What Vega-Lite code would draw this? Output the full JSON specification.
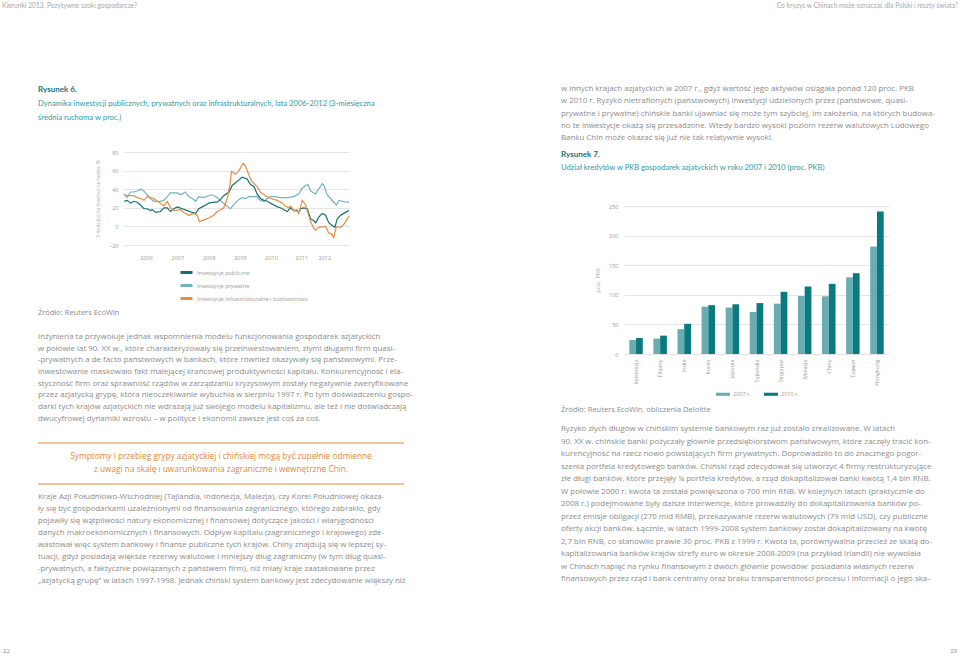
{
  "$schema": "https://vega.github.io/schema/vega-lite/v6.json",
  "background": "white",
  "padding": 0,
  "spacing": 0,
  "config": {
    "view": {"stroke": null},
    "font": "Open Sans",
    "concat": {"spacing": 0}
  },
  "resolve": {"scale": {"stroke": "independent", "fill": "independent"}, "legend": {"stroke": "independent", "fill": "independent"}},
  "vconcat": [
    {
      "width": 960, "height": 83,
      "layer": [
        {"data": {"values": [{"t": "Kierunki 2013. Pozytywne szoki gospodarcze?"}]},
         "mark": {"type": "text", "align": "left", "baseline": "middle", "fontSize": 6.7, "color": "#a8a8a8", "font": "Lato"},
         "encoding": {"text": {"field": "t"}, "x": {"value": 2}, "y": {"value": 5.5}}},
        {"data": {"values": [{"t": "Co kryzys w Chinach może oznaczać dla Polski i reszty świata?"}]},
         "mark": {"type": "text", "align": "right", "baseline": "middle", "fontSize": 6.7, "color": "#a8a8a8", "font": "Lato"},
         "encoding": {"text": {"field": "t"}, "x": {"value": 958}, "y": {"value": 5.5}}}
      ]
    },
    {
      "spacing": 0,
      "resolve": {"scale": {"stroke": "independent", "fill": "independent"}, "legend": {"stroke": "independent", "fill": "independent"}},
      "hconcat": [
        {"width": 37, "height": 1, "data": {"values": []}, "mark": "text", "encoding": {}},
        {
          "spacing": 0,
          "resolve": {"scale": {"stroke": "independent", "fill": "independent"}, "legend": {"stroke": "independent", "fill": "independent"}},
          "vconcat": [
            {
              "width": 395, "height": 42,
              "data": {"values": [
                {"i": 0, "t": "Rysunek 6."},
                {"i": 1, "t": "Dynamika inwestycji publicznych, prywatnych oraz infrastrukturalnych, lata 2006-2012 (3-miesięczna"},
                {"i": 2, "t": "średnia ruchoma w proc.)"}
              ]},
              "encoding": {
                "x": {"value": 0},
                "y": {"field": "i", "type": "ordinal", "scale": {"type": "point", "padding": 0.5}, "axis": null},
                "text": {"field": "t"}
              },
              "layer": [
                {"transform": [{"filter": "datum.i == 0"}], "mark": {"type": "text", "align": "left", "baseline": "middle", "font": "Lato", "fontSize": 8, "fontWeight": "bold", "color": "#17737a"}},
                {"transform": [{"filter": "datum.i > 0"}], "mark": {"type": "text", "align": "left", "baseline": "middle", "font": "Lato", "fontSize": 7.6, "color": "#2e9ca3"}}
              ]
            },
            {"width": 395, "height": 24.25, "data": {"values": []}, "mark": "text", "encoding": {}},
            {
              "spacing": 0,
              "bounds": "flush",
              "resolve": {"scale": {"stroke": "independent", "fill": "independent"}, "legend": {"stroke": "independent", "fill": "independent"}},
              "hconcat": [
                {"width": 86, "height": 1, "data": {"values": []}, "mark": "text", "encoding": {}},
                {
                  "width": 225, "height": 93,
                  "data": {"values": [
                    {"d": 2005.79, "s": "Inwestycje prywatne", "v": 35},
                    {"d": 2005.89, "s": "Inwestycje prywatne", "v": 31},
                    {"d": 2006.00, "s": "Inwestycje prywatne", "v": 37},
                    {"d": 2006.11, "s": "Inwestycje prywatne", "v": 37},
                    {"d": 2006.21, "s": "Inwestycje prywatne", "v": 38},
                    {"d": 2006.32, "s": "Inwestycje prywatne", "v": 40},
                    {"d": 2006.43, "s": "Inwestycje prywatne", "v": 38},
                    {"d": 2006.53, "s": "Inwestycje prywatne", "v": 34},
                    {"d": 2006.64, "s": "Inwestycje prywatne", "v": 30},
                    {"d": 2006.75, "s": "Inwestycje prywatne", "v": 27},
                    {"d": 2006.96, "s": "Inwestycje prywatne", "v": 27},
                    {"d": 2007.07, "s": "Inwestycje prywatne", "v": 28},
                    {"d": 2007.18, "s": "Inwestycje prywatne", "v": 32},
                    {"d": 2007.28, "s": "Inwestycje prywatne", "v": 36},
                    {"d": 2007.50, "s": "Inwestycje prywatne", "v": 36},
                    {"d": 2007.60, "s": "Inwestycje prywatne", "v": 34},
                    {"d": 2007.76, "s": "Inwestycje prywatne", "v": 37},
                    {"d": 2007.87, "s": "Inwestycje prywatne", "v": 32},
                    {"d": 2007.98, "s": "Inwestycje prywatne", "v": 30},
                    {"d": 2008.09, "s": "Inwestycje prywatne", "v": 27},
                    {"d": 2008.19, "s": "Inwestycje prywatne", "v": 32},
                    {"d": 2008.35, "s": "Inwestycje prywatne", "v": 31},
                    {"d": 2008.51, "s": "Inwestycje prywatne", "v": 33},
                    {"d": 2008.62, "s": "Inwestycje prywatne", "v": 34},
                    {"d": 2008.78, "s": "Inwestycje prywatne", "v": 31},
                    {"d": 2008.94, "s": "Inwestycje prywatne", "v": 26},
                    {"d": 2009.05, "s": "Inwestycje prywatne", "v": 23},
                    {"d": 2009.16, "s": "Inwestycje prywatne", "v": 20},
                    {"d": 2009.21, "s": "Inwestycje prywatne", "v": 19},
                    {"d": 2009.32, "s": "Inwestycje prywatne", "v": 24},
                    {"d": 2009.48, "s": "Inwestycje prywatne", "v": 29},
                    {"d": 2009.58, "s": "Inwestycje prywatne", "v": 31},
                    {"d": 2009.69, "s": "Inwestycje prywatne", "v": 30},
                    {"d": 2009.80, "s": "Inwestycje prywatne", "v": 32},
                    {"d": 2009.96, "s": "Inwestycje prywatne", "v": 32},
                    {"d": 2010.06, "s": "Inwestycje prywatne", "v": 32},
                    {"d": 2010.17, "s": "Inwestycje prywatne", "v": 28},
                    {"d": 2010.28, "s": "Inwestycje prywatne", "v": 27},
                    {"d": 2010.39, "s": "Inwestycje prywatne", "v": 30},
                    {"d": 2010.49, "s": "Inwestycje prywatne", "v": 32},
                    {"d": 2010.65, "s": "Inwestycje prywatne", "v": 32},
                    {"d": 2010.81, "s": "Inwestycje prywatne", "v": 31},
                    {"d": 2011.03, "s": "Inwestycje prywatne", "v": 31},
                    {"d": 2011.24, "s": "Inwestycje prywatne", "v": 32},
                    {"d": 2011.40, "s": "Inwestycje prywatne", "v": 35},
                    {"d": 2011.51, "s": "Inwestycje prywatne", "v": 41},
                    {"d": 2011.62, "s": "Inwestycje prywatne", "v": 44},
                    {"d": 2011.69, "s": "Inwestycje prywatne", "v": 45},
                    {"d": 2011.78, "s": "Inwestycje prywatne", "v": 38},
                    {"d": 2011.88, "s": "Inwestycje prywatne", "v": 36},
                    {"d": 2011.94, "s": "Inwestycje prywatne", "v": 35},
                    {"d": 2011.99, "s": "Inwestycje prywatne", "v": 38},
                    {"d": 2012.10, "s": "Inwestycje prywatne", "v": 43},
                    {"d": 2012.15, "s": "Inwestycje prywatne", "v": 46},
                    {"d": 2012.22, "s": "Inwestycje prywatne", "v": 43},
                    {"d": 2012.31, "s": "Inwestycje prywatne", "v": 34},
                    {"d": 2012.42, "s": "Inwestycje prywatne", "v": 30},
                    {"d": 2012.52, "s": "Inwestycje prywatne", "v": 26},
                    {"d": 2012.61, "s": "Inwestycje prywatne", "v": 23},
                    {"d": 2012.68, "s": "Inwestycje prywatne", "v": 28},
                    {"d": 2012.79, "s": "Inwestycje prywatne", "v": 27},
                    {"d": 2012.90, "s": "Inwestycje prywatne", "v": 26},
                    {"d": 2013.01, "s": "Inwestycje prywatne", "v": 26},
                    {"d": 2005.79, "s": "Inwestycje publiczne", "v": 27},
                    {"d": 2005.89, "s": "Inwestycje publiczne", "v": 28},
                    {"d": 2006.00, "s": "Inwestycje publiczne", "v": 25},
                    {"d": 2006.11, "s": "Inwestycje publiczne", "v": 27},
                    {"d": 2006.21, "s": "Inwestycje publiczne", "v": 26},
                    {"d": 2006.32, "s": "Inwestycje publiczne", "v": 23},
                    {"d": 2006.43, "s": "Inwestycje publiczne", "v": 19},
                    {"d": 2006.53, "s": "Inwestycje publiczne", "v": 19},
                    {"d": 2006.64, "s": "Inwestycje publiczne", "v": 17},
                    {"d": 2006.70, "s": "Inwestycje publiczne", "v": 18},
                    {"d": 2006.80, "s": "Inwestycje publiczne", "v": 15},
                    {"d": 2006.96, "s": "Inwestycje publiczne", "v": 16},
                    {"d": 2007.07, "s": "Inwestycje publiczne", "v": 20},
                    {"d": 2007.18, "s": "Inwestycje publiczne", "v": 20},
                    {"d": 2007.28, "s": "Inwestycje publiczne", "v": 16},
                    {"d": 2007.39, "s": "Inwestycje publiczne", "v": 19},
                    {"d": 2007.50, "s": "Inwestycje publiczne", "v": 21},
                    {"d": 2007.66, "s": "Inwestycje publiczne", "v": 19},
                    {"d": 2007.82, "s": "Inwestycje publiczne", "v": 17},
                    {"d": 2007.98, "s": "Inwestycje publiczne", "v": 15},
                    {"d": 2008.09, "s": "Inwestycje publiczne", "v": 14},
                    {"d": 2008.19, "s": "Inwestycje publiczne", "v": 19},
                    {"d": 2008.30, "s": "Inwestycje publiczne", "v": 21},
                    {"d": 2008.41, "s": "Inwestycje publiczne", "v": 23},
                    {"d": 2008.51, "s": "Inwestycje publiczne", "v": 25},
                    {"d": 2008.67, "s": "Inwestycje publiczne", "v": 26},
                    {"d": 2008.78, "s": "Inwestycje publiczne", "v": 26},
                    {"d": 2008.89, "s": "Inwestycje publiczne", "v": 29},
                    {"d": 2008.99, "s": "Inwestycje publiczne", "v": 33},
                    {"d": 2009.16, "s": "Inwestycje publiczne", "v": 37},
                    {"d": 2009.26, "s": "Inwestycje publiczne", "v": 44},
                    {"d": 2009.37, "s": "Inwestycje publiczne", "v": 47},
                    {"d": 2009.48, "s": "Inwestycje publiczne", "v": 50},
                    {"d": 2009.58, "s": "Inwestycje publiczne", "v": 53},
                    {"d": 2009.74, "s": "Inwestycje publiczne", "v": 51},
                    {"d": 2009.85, "s": "Inwestycje publiczne", "v": 45},
                    {"d": 2009.96, "s": "Inwestycje publiczne", "v": 43},
                    {"d": 2010.06, "s": "Inwestycje publiczne", "v": 35},
                    {"d": 2010.17, "s": "Inwestycje publiczne", "v": 30},
                    {"d": 2010.28, "s": "Inwestycje publiczne", "v": 28},
                    {"d": 2010.39, "s": "Inwestycje publiczne", "v": 27},
                    {"d": 2010.49, "s": "Inwestycje publiczne", "v": 25},
                    {"d": 2010.60, "s": "Inwestycje publiczne", "v": 23},
                    {"d": 2010.71, "s": "Inwestycje publiczne", "v": 21},
                    {"d": 2010.81, "s": "Inwestycje publiczne", "v": 20},
                    {"d": 2010.92, "s": "Inwestycje publiczne", "v": 18},
                    {"d": 2011.03, "s": "Inwestycje publiczne", "v": 16},
                    {"d": 2011.13, "s": "Inwestycje publiczne", "v": 20},
                    {"d": 2011.24, "s": "Inwestycje publiczne", "v": 17},
                    {"d": 2011.35, "s": "Inwestycje publiczne", "v": 17},
                    {"d": 2011.40, "s": "Inwestycje publiczne", "v": 15},
                    {"d": 2011.45, "s": "Inwestycje publiczne", "v": 19},
                    {"d": 2011.56, "s": "Inwestycje publiczne", "v": 20},
                    {"d": 2011.67, "s": "Inwestycje publiczne", "v": 19},
                    {"d": 2011.78, "s": "Inwestycje publiczne", "v": 8},
                    {"d": 2011.88, "s": "Inwestycje publiczne", "v": 6},
                    {"d": 2011.94, "s": "Inwestycje publiczne", "v": 4},
                    {"d": 2012.04, "s": "Inwestycje publiczne", "v": 10},
                    {"d": 2012.15, "s": "Inwestycje publiczne", "v": 14},
                    {"d": 2012.26, "s": "Inwestycje publiczne", "v": 12},
                    {"d": 2012.36, "s": "Inwestycje publiczne", "v": 4},
                    {"d": 2012.47, "s": "Inwestycje publiczne", "v": 1},
                    {"d": 2012.56, "s": "Inwestycje publiczne", "v": -1},
                    {"d": 2012.63, "s": "Inwestycje publiczne", "v": 8},
                    {"d": 2012.74, "s": "Inwestycje publiczne", "v": 12},
                    {"d": 2012.84, "s": "Inwestycje publiczne", "v": 14},
                    {"d": 2013.01, "s": "Inwestycje publiczne", "v": 17},
                    {"d": 2005.79, "s": "Inwestycje infrastrukturalne i budownictwo", "v": 34},
                    {"d": 2005.89, "s": "Inwestycje infrastrukturalne i budownictwo", "v": 33},
                    {"d": 2006.11, "s": "Inwestycje infrastrukturalne i budownictwo", "v": 33},
                    {"d": 2006.21, "s": "Inwestycje infrastrukturalne i budownictwo", "v": 31},
                    {"d": 2006.32, "s": "Inwestycje infrastrukturalne i budownictwo", "v": 30},
                    {"d": 2006.43, "s": "Inwestycje infrastrukturalne i budownictwo", "v": 28},
                    {"d": 2006.53, "s": "Inwestycje infrastrukturalne i budownictwo", "v": 32},
                    {"d": 2006.75, "s": "Inwestycje infrastrukturalne i budownictwo", "v": 30},
                    {"d": 2006.86, "s": "Inwestycje infrastrukturalne i budownictwo", "v": 27},
                    {"d": 2006.96, "s": "Inwestycje infrastrukturalne i budownictwo", "v": 25},
                    {"d": 2007.07, "s": "Inwestycje infrastrukturalne i budownictwo", "v": 22},
                    {"d": 2007.18, "s": "Inwestycje infrastrukturalne i budownictwo", "v": 27},
                    {"d": 2007.28, "s": "Inwestycje infrastrukturalne i budownictwo", "v": 20},
                    {"d": 2007.39, "s": "Inwestycje infrastrukturalne i budownictwo", "v": 17},
                    {"d": 2007.60, "s": "Inwestycje infrastrukturalne i budownictwo", "v": 18},
                    {"d": 2007.71, "s": "Inwestycje infrastrukturalne i budownictwo", "v": 15},
                    {"d": 2007.87, "s": "Inwestycje infrastrukturalne i budownictwo", "v": 12},
                    {"d": 2008.03, "s": "Inwestycje infrastrukturalne i budownictwo", "v": 14},
                    {"d": 2008.14, "s": "Inwestycje infrastrukturalne i budownictwo", "v": 12},
                    {"d": 2008.21, "s": "Inwestycje infrastrukturalne i budownictwo", "v": 5},
                    {"d": 2008.35, "s": "Inwestycje infrastrukturalne i budownictwo", "v": 7},
                    {"d": 2008.51, "s": "Inwestycje infrastrukturalne i budownictwo", "v": 9},
                    {"d": 2008.67, "s": "Inwestycje infrastrukturalne i budownictwo", "v": 12},
                    {"d": 2008.78, "s": "Inwestycje infrastrukturalne i budownictwo", "v": 16},
                    {"d": 2008.89, "s": "Inwestycje infrastrukturalne i budownictwo", "v": 18},
                    {"d": 2008.99, "s": "Inwestycje infrastrukturalne i budownictwo", "v": 20},
                    {"d": 2009.10, "s": "Inwestycje infrastrukturalne i budownictwo", "v": 30},
                    {"d": 2009.19, "s": "Inwestycje infrastrukturalne i budownictwo", "v": 45},
                    {"d": 2009.24, "s": "Inwestycje infrastrukturalne i budownictwo", "v": 59},
                    {"d": 2009.37, "s": "Inwestycje infrastrukturalne i budownictwo", "v": 56},
                    {"d": 2009.48, "s": "Inwestycje infrastrukturalne i budownictwo", "v": 60},
                    {"d": 2009.61, "s": "Inwestycje infrastrukturalne i budownictwo", "v": 68},
                    {"d": 2009.69, "s": "Inwestycje infrastrukturalne i budownictwo", "v": 65},
                    {"d": 2009.80, "s": "Inwestycje infrastrukturalne i budownictwo", "v": 55},
                    {"d": 2009.90, "s": "Inwestycje infrastrukturalne i budownictwo", "v": 48},
                    {"d": 2010.06, "s": "Inwestycje infrastrukturalne i budownictwo", "v": 43},
                    {"d": 2010.17, "s": "Inwestycje infrastrukturalne i budownictwo", "v": 37},
                    {"d": 2010.33, "s": "Inwestycje infrastrukturalne i budownictwo", "v": 33},
                    {"d": 2010.49, "s": "Inwestycje infrastrukturalne i budownictwo", "v": 30},
                    {"d": 2010.71, "s": "Inwestycje infrastrukturalne i budownictwo", "v": 28},
                    {"d": 2010.87, "s": "Inwestycje infrastrukturalne i budownictwo", "v": 25},
                    {"d": 2010.97, "s": "Inwestycje infrastrukturalne i budownictwo", "v": 22},
                    {"d": 2011.08, "s": "Inwestycje infrastrukturalne i budownictwo", "v": 20},
                    {"d": 2011.13, "s": "Inwestycje infrastrukturalne i budownictwo", "v": 22},
                    {"d": 2011.24, "s": "Inwestycje infrastrukturalne i budownictwo", "v": 17},
                    {"d": 2011.35, "s": "Inwestycje infrastrukturalne i budownictwo", "v": 18},
                    {"d": 2011.40, "s": "Inwestycje infrastrukturalne i budownictwo", "v": 14},
                    {"d": 2011.51, "s": "Inwestycje infrastrukturalne i budownictwo", "v": 28},
                    {"d": 2011.62, "s": "Inwestycje infrastrukturalne i budownictwo", "v": 23},
                    {"d": 2011.67, "s": "Inwestycje infrastrukturalne i budownictwo", "v": 17},
                    {"d": 2011.78, "s": "Inwestycje infrastrukturalne i budownictwo", "v": 5},
                    {"d": 2011.88, "s": "Inwestycje infrastrukturalne i budownictwo", "v": -2},
                    {"d": 2011.94, "s": "Inwestycje infrastrukturalne i budownictwo", "v": -4},
                    {"d": 2012.04, "s": "Inwestycje infrastrukturalne i budownictwo", "v": -1},
                    {"d": 2012.26, "s": "Inwestycje infrastrukturalne i budownictwo", "v": 0},
                    {"d": 2012.36, "s": "Inwestycje infrastrukturalne i budownictwo", "v": -7},
                    {"d": 2012.45, "s": "Inwestycje infrastrukturalne i budownictwo", "v": -8},
                    {"d": 2012.52, "s": "Inwestycje infrastrukturalne i budownictwo", "v": -12},
                    {"d": 2012.58, "s": "Inwestycje infrastrukturalne i budownictwo", "v": -3},
                    {"d": 2012.63, "s": "Inwestycje infrastrukturalne i budownictwo", "v": 0},
                    {"d": 2012.74, "s": "Inwestycje infrastrukturalne i budownictwo", "v": -1},
                    {"d": 2012.84, "s": "Inwestycje infrastrukturalne i budownictwo", "v": 2},
                    {"d": 2013.01, "s": "Inwestycje infrastrukturalne i budownictwo", "v": 11}
                  ]},
                  "mark": {"type": "line", "strokeWidth": 1.2},
                  "encoding": {
                    "x": {"field": "d", "type": "quantitative",
                          "scale": {"domain": [2005.79, 2013.01], "nice": false, "zero": false},
                          "axis": {"values": [2006.5, 2007.5, 2008.51, 2009.51, 2010.51, 2011.48, 2012.22], "labelExpr": "floor(datum.value)", "grid": false, "domain": false, "ticks": false, "labelFontSize": 5.5, "labelColor": "#9a9a9a", "labelPadding": 10, "title": null}},
                    "y": {"field": "v", "type": "quantitative",
                          "scale": {"domain": [-20, 80], "nice": false},
                          "axis": {"values": [-20, 0, 20, 40, 60, 80], "domain": false, "ticks": false, "grid": true, "gridColor": "#dedede", "gridWidth": 0.8, "labelFontSize": 5.5, "labelColor": "#9a9a9a", "labelPadding": 6, "title": "3-miesięczna średnia ruchoma, %", "titleFontSize": 5, "titleFontWeight": "normal", "titleColor": "#ababab", "titlePadding": 8}},
                    "stroke": {"field": "s", "type": "nominal",
                              "scale": {"domain": ["Inwestycje publiczne", "Inwestycje prywatne", "Inwestycje infrastrukturalne i budownictwo"], "range": ["#137077", "#74b4b9", "#ea8d3f"]},
                              "legend": {"orient": "none", "legendX": 58, "legendY": 116, "direction": "vertical", "title": null, "symbolType": "M-2,0H2", "symbolStrokeWidth": 3, "symbolSize": 36, "rowPadding": 0, "labelOffset": 6, "labelFontSize": 5.5, "labelColor": "#9a9a9a"}}
                  }
                }
              ]
            },
            {"width": 395, "height": 2, "data": {"values": []}, "mark": "text", "encoding": {}},
            {
              "width": 395, "height": 12,
              "data": {"values": [{"i": 0, "t": "Źródło: Reuters EcoWin"}]},
              "mark": {"type": "text", "align": "left", "baseline": "middle", "fontSize": 7.5, "color": "#8c8c8c"},
              "encoding": {"x": {"value": 0}, "y": {"field": "i", "type": "ordinal", "scale": {"type": "point", "padding": 0.5}, "axis": null}, "text": {"field": "t"}}
            },
            {"width": 395, "height": 12, "data": {"values": []}, "mark": "text", "encoding": {}},
            {
              "width": 395, "height": 93.6,
              "data": {"values": [
                {"i": 0, "t": "Inżynieria ta przywołuje jednak wspomnienia modelu funkcjonowania gospodarek azjatyckich"},
                {"i": 1, "t": "w połowie lat 90. XX w., które charakteryzowały się przeinwestowaniem, złymi długami firm quasi-"},
                {"i": 2, "t": "-prywatnych a de facto państwowych w bankach, które również okazywały się państwowymi. Prze-"},
                {"i": 3, "t": "inwestowanie maskowało fakt malejącej krańcowej produktywności kapitału. Konkurencyjność i ela-"},
                {"i": 4, "t": "styczność firm oraz sprawność rządów w zarządzaniu kryzysowym zostały negatywnie zweryfikowane"},
                {"i": 5, "t": "przez azjatycką grypę, która nieoczekiwanie wybuchła w sierpniu 1997 r. Po tym doświadczeniu gospo-"},
                {"i": 6, "t": "darki tych krajów azjatyckich nie wdrażają już swojego modelu kapitalizmu, ale też i nie doświadczają"},
                {"i": 7, "t": "dwucyfrowej dynamiki wzrostu – w polityce i ekonomii zawsze jest coś za coś."}
              ]},
              "mark": {"type": "text", "align": "left", "baseline": "middle", "fontSize": 7.9, "color": "#8c8c8c"},
              "encoding": {"x": {"value": 0}, "y": {"field": "i", "type": "ordinal", "scale": {"type": "point", "padding": 0.5}, "axis": null}, "text": {"field": "t"}}
            },
            {"width": 395, "height": 16.4, "data": {"values": []}, "mark": "text", "encoding": {}},
            {
              "width": 366, "height": 41,
              "layer": [
                {"data": {"values": [{"r": 0}, {"r": 1}]},
                 "mark": {"type": "rule", "color": "#ebb27c", "strokeWidth": 1.3},
                 "encoding": {"y": {"field": "r", "type": "quantitative", "scale": {"domain": [0, 1], "nice": false, "zero": false}, "axis": null}}},
                {"data": {"values": [
                  {"i": 0, "t": "Symptomy i przebieg grypy azjatyckiej i chińskiej mogą być zupełnie odmienne"},
                  {"i": 1, "t": "z uwagi na skalę i uwarunkowania zagraniczne i wewnętrzne Chin."}
                ]},
                 "mark": {"type": "text", "align": "center", "baseline": "middle", "fontSize": 8.3, "color": "#e3883a"},
                 "encoding": {"y": {"field": "i", "type": "ordinal", "scale": {"type": "point", "padding": 1.36}, "axis": null}, "text": {"field": "t"}}}
              ],
              "resolve": {"scale": {"y": "independent"}}
            },
            {"width": 395, "height": 6, "data": {"values": []}, "mark": "text", "encoding": {}},
            {
              "width": 395, "height": 96,
              "data": {"values": [
                {"i": 0, "t": "Kraje Azji Południowo-Wschodniej (Tajlandia, Indonezja, Malezja), czy Korei Południowej okaza-"},
                {"i": 1, "t": "ły się być gospodarkami uzależnionymi od finansowania zagranicznego, którego zabrakło, gdy"},
                {"i": 2, "t": "pojawiły się wątpliwości natury ekonomicznej i finansowej dotyczące jakości i wiarygodności"},
                {"i": 3, "t": "danych makroekonomicznych i finansowych. Odpływ kapitału (zagranicznego i krajowego) zde-"},
                {"i": 4, "t": "wastował więc system bankowy i finanse publiczne tych krajów. Chiny znajdują się w lepszej sy-"},
                {"i": 5, "t": "tuacji, gdyż posiadają większe rezerwy walutowe i mniejszy dług zagraniczny (w tym dług quasi-"},
                {"i": 6, "t": "-prywatnych, a faktycznie powiązanych z państwem firm), niż miały kraje zaatakowane przez"},
                {"i": 7, "t": "„azjatycką grupę” w latach 1997-1998. Jednak chiński system bankowy jest zdecydowanie większy niż"}
              ]},
              "mark": {"type": "text", "align": "left", "baseline": "middle", "fontSize": 7.9, "color": "#8c8c8c"},
              "encoding": {"x": {"value": 0}, "y": {"field": "i", "type": "ordinal", "scale": {"type": "point", "padding": 0.5}, "axis": null}, "text": {"field": "t"}}
            }
          ]
        },
        {"width": 128, "height": 1, "data": {"values": []}, "mark": "text", "encoding": {}},
        {
          "spacing": 0,
          "resolve": {"scale": {"stroke": "independent", "fill": "independent"}, "legend": {"stroke": "independent", "fill": "independent"}},
          "vconcat": [
            {
              "width": 390, "height": 61.5,
              "data": {"values": [
                {"i": 0, "t": "w innych krajach azjatyckich w 2007 r., gdyż wartość jego aktywów osiągała ponad 120 proc. PKB"},
                {"i": 1, "t": "w 2010 r. Ryzyko nietrafionych (państwowych) inwestycji udzielonych przez (państwowe, quasi-"},
                {"i": 2, "t": "prywatne i prywatne) chińskie banki ujawniać się może tym szybciej, im założenia, na których budowa-"},
                {"i": 3, "t": "no te inwestycje okażą się przesadzone. Wtedy bardzo wysoki poziom rezerw walutowych Ludowego"},
                {"i": 4, "t": "Banku Chin może okazać się już nie tak relatywnie wysoki."}
              ]},
              "mark": {"type": "text", "align": "left", "baseline": "middle", "fontSize": 7.9, "color": "#8c8c8c"},
              "encoding": {"x": {"value": 0}, "y": {"field": "i", "type": "ordinal", "scale": {"type": "point", "padding": 0.5}, "axis": null}, "text": {"field": "t"}}
            },
            {"width": 390, "height": 3, "data": {"values": []}, "mark": "text", "encoding": {}},
            {
              "width": 390, "height": 26,
              "data": {"values": [
                {"i": 0, "t": "Rysunek 7."},
                {"i": 1, "t": "Udział kredytów w PKB gospodarek azjatyckich w roku 2007 i 2010 (proc. PKB)"}
              ]},
              "encoding": {
                "x": {"value": 0},
                "y": {"field": "i", "type": "ordinal", "scale": {"type": "point", "padding": 0.5}, "axis": null},
                "text": {"field": "t"}
              },
              "layer": [
                {"transform": [{"filter": "datum.i == 0"}], "mark": {"type": "text", "align": "left", "baseline": "middle", "font": "Lato", "fontSize": 8, "fontWeight": "bold", "color": "#17737a"}},
                {"transform": [{"filter": "datum.i > 0"}], "mark": {"type": "text", "align": "left", "baseline": "middle", "font": "Lato", "fontSize": 7.6, "color": "#2e9ca3"}}
              ]
            },
            {"width": 390, "height": 30, "data": {"values": []}, "mark": "text", "encoding": {}},
            {
              "spacing": 0,
              "bounds": "flush",
              "resolve": {"scale": {"stroke": "independent", "fill": "independent"}, "legend": {"stroke": "independent", "fill": "independent"}},
              "hconcat": [
                {"width": 63, "height": 1, "data": {"values": []}, "mark": "text", "encoding": {}},
                {
                  "width": 265, "height": 148,
                  "data": {"values": [
                    {"k": "Indonezja", "r": "2007 r.", "v": 23.5},
                    {"k": "Indonezja", "r": "2010 r.", "v": 27},
                    {"k": "Filipiny", "r": "2007 r.", "v": 26},
                    {"k": "Filipiny", "r": "2010 r.", "v": 31},
                    {"k": "Indie", "r": "2007 r.", "v": 42},
                    {"k": "Indie", "r": "2010 r.", "v": 51},
                    {"k": "Korea", "r": "2007 r.", "v": 80},
                    {"k": "Korea", "r": "2010 r.", "v": 82.5},
                    {"k": "Japonia", "r": "2007 r.", "v": 78.5},
                    {"k": "Japonia", "r": "2010 r.", "v": 84},
                    {"k": "Tajlandia", "r": "2007 r.", "v": 71},
                    {"k": "Tajlandia", "r": "2010 r.", "v": 86},
                    {"k": "Singapur", "r": "2007 r.", "v": 85},
                    {"k": "Singapur", "r": "2010 r.", "v": 105},
                    {"k": "Malezja", "r": "2007 r.", "v": 98},
                    {"k": "Malezja", "r": "2010 r.", "v": 114},
                    {"k": "Chiny", "r": "2007 r.", "v": 97.5},
                    {"k": "Chiny", "r": "2010 r.", "v": 118.5},
                    {"k": "Tajwan", "r": "2007 r.", "v": 129.5},
                    {"k": "Tajwan", "r": "2010 r.", "v": 136.5},
                    {"k": "Hongkong", "r": "2007 r.", "v": 181.5},
                    {"k": "Hongkong", "r": "2010 r.", "v": 240.5}
                  ]},
                  "mark": {"type": "bar"},
                  "encoding": {
                    "x": {"field": "k", "type": "nominal", "sort": null,
                          "scale": {"paddingInner": 0.44, "paddingOuter": 0.22},
                          "axis": {"labelAngle": -90, "domain": false, "ticks": false, "labelFontSize": 5.5, "labelColor": "#9a9a9a", "labelPadding": 5, "title": null}},
                    "xOffset": {"field": "r", "type": "nominal", "sort": ["2007 r.", "2010 r."]},
                    "y": {"field": "v", "type": "quantitative",
                          "scale": {"domain": [0, 250], "nice": false},
                          "axis": {"values": [0, 50, 100, 150, 200, 250], "domain": false, "ticks": false, "grid": true, "gridColor": "#dedede", "gridWidth": 0.8, "labelFontSize": 5.5, "labelColor": "#9a9a9a", "labelPadding": 6, "title": "proc. PKB", "titleFontSize": 5.5, "titleFontWeight": "normal", "titleColor": "#ababab", "titlePadding": 8}},
                    "fill": {"field": "r", "type": "nominal",
                              "scale": {"domain": ["2007 r.", "2010 r."], "range": ["#69adb3", "#0b7980"]},
                              "legend": {"orient": "none", "legendX": 92, "legendY": 181, "direction": "horizontal", "title": null, "symbolType": "M-1,-0.22H1V0.22H-1Z", "symbolSize": 196, "symbolStrokeWidth": 0, "columnPadding": 13, "labelOffset": 3, "labelFontSize": 5.5, "labelColor": "#9a9a9a"}}
                  }
                }
              ]
            },
            {"width": 390, "height": 6, "data": {"values": []}, "mark": "text", "encoding": {}},
            {
              "width": 390, "height": 12,
              "data": {"values": [{"i": 0, "t": "Źródło: Reuters EcoWin, obliczenia Deloitte"}]},
              "mark": {"type": "text", "align": "left", "baseline": "middle", "fontSize": 7.5, "color": "#8c8c8c"},
              "encoding": {"x": {"value": 0}, "y": {"field": "i", "type": "ordinal", "scale": {"type": "point", "padding": 0.5}, "axis": null}, "text": {"field": "t"}}
            },
            {"width": 390, "height": 6.75, "data": {"values": []}, "mark": "text", "encoding": {}},
            {
              "width": 390, "height": 162.5,
              "data": {"values": [
                {"i": 0, "t": "Ryzyko złych długów w chińskim systemie bankowym raz już zostało zrealizowane. W latach"},
                {"i": 1, "t": "90. XX w. chińskie banki pożyczały głównie przedsiębiorstwom państwowym, które zaczęły tracić kon-"},
                {"i": 2, "t": "kurencyjność na rzecz nowo powstających firm prywatnych. Doprowadziło to do znacznego pogor-"},
                {"i": 3, "t": "szenia portfela kredytowego banków. Chiński rząd zdecydował się utworzyć 4 firmy restrukturyzujące"},
                {"i": 4, "t": "złe długi banków, które przejęły ¼ portfela kredytów, a rząd dokapitalizował banki kwotą 1,4 bln RNB."},
                {"i": 5, "t": "W połowie 2000 r. kwota ta została powiększona o 700 mln RNB. W kolejnych latach (praktycznie do"},
                {"i": 6, "t": "2008 r.) podejmowane były dalsze interwencje, które prowadziły do dokapitalizowania banków po-"},
                {"i": 7, "t": "przez emisje obligacji (270 mld RMB), przekazywanie rezerw walutowych (79 mld USD), czy publiczne"},
                {"i": 8, "t": "oferty akcji banków. Łącznie, w latach 1999-2008 system bankowy został dokapitalizowany na kwotę"},
                {"i": 9, "t": "2,7 bln RNB, co stanowiło prawie 30 proc. PKB z 1999 r. Kwota ta, porównywalna przecież ze skalą do-"},
                {"i": 10, "t": "kapitalizowania banków krajów strefy euro w okresie 2008-2009 (na przykład Irlandii) nie wywołała"},
                {"i": 11, "t": "w Chinach napięć na rynku finansowym z dwóch głównie powodów: posiadania własnych rezerw"},
                {"i": 12, "t": "finansowych przez rząd i bank centralny oraz braku transparentności procesu i informacji o jego ska-"}
              ]},
              "mark": {"type": "text", "align": "left", "baseline": "middle", "fontSize": 7.9, "color": "#8c8c8c"},
              "encoding": {"x": {"value": 0}, "y": {"field": "i", "type": "ordinal", "scale": {"type": "point", "padding": 0.5}, "axis": null}, "text": {"field": "t"}}
            }
          ]
        }
      ]
    },
    {
      "width": 960, "height": 68,
      "layer": [
        {"data": {"values": [{"t": "22"}]},
         "mark": {"type": "text", "align": "left", "baseline": "middle", "fontSize": 6, "color": "#8c8c8c"},
         "encoding": {"text": {"field": "t"}, "x": {"value": 3}, "y": {"value": 64}}},
        {"data": {"values": [{"t": "23"}]},
         "mark": {"type": "text", "align": "right", "baseline": "middle", "fontSize": 6, "color": "#8c8c8c"},
         "encoding": {"text": {"field": "t"}, "x": {"value": 957}, "y": {"value": 64}}}
      ]
    }
  ]
}
